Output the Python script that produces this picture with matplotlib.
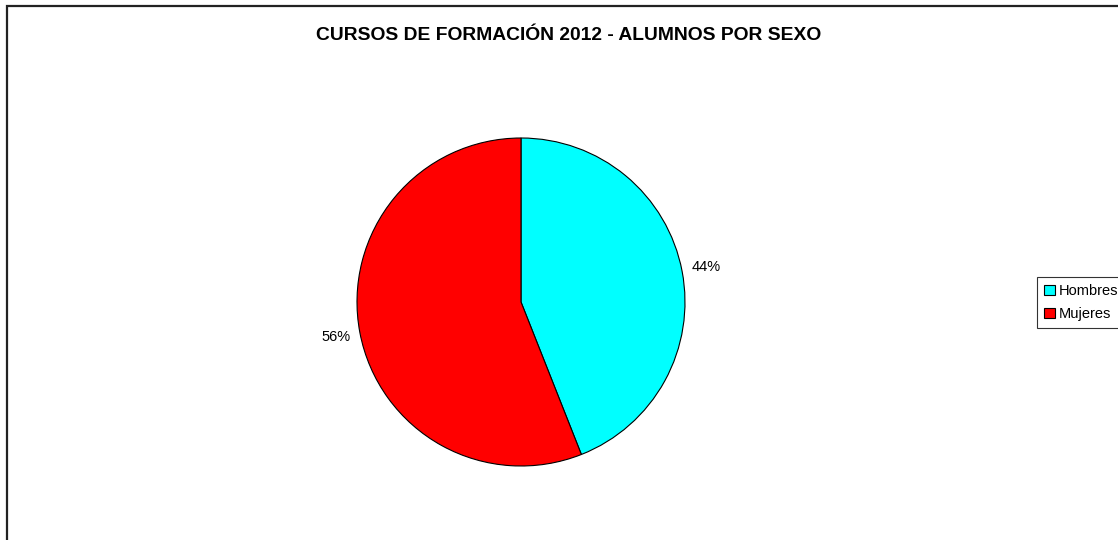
import matplotlib.pyplot as plt
from matplotlib.patches import Rectangle

plt.rcParams['font.family'] = ['Liberation Sans', 'DejaVu Sans']

titulo = 'CURSOS DE FORMACIÓN 2012 - ALUMNOS POR SEXO'
sexos = ['Hombres', 'Mujeres']
porcentajes = [44, 56]
colores = ['#00FFFF', '#FF0000']

W, H = 1118, 540
fig = plt.figure(figsize=(W / 100, H / 100), dpi=100)

# marco del grafico (se sale por la derecha y por abajo)
fig.patches.append(Rectangle((7 / W, -0.1), 1.2, (H - 6) / H + 0.1,
                             transform=fig.transFigure, fill=False,
                             edgecolor='#222222', linewidth=1.6))

fig.text(569 / W, 1 - 35 / H, titulo, ha='center', va='center',
         fontsize=13.9, fontweight='bold')

# tarta centrada en (521, 302) con radio 164 px
cx, cy, r = 521, 302, 164
ax = fig.add_axes([(cx - r) / W, (H - cy - r) / H, 2 * r / W, 2 * r / H])
wedges, textos, pct = ax.pie(porcentajes, colors=colores, startangle=90,
                             counterclock=False, autopct='%1.0f%%',
                             pctdistance=1.15,
                             wedgeprops=dict(edgecolor='black', linewidth=0.8))
for t in pct:
    t.set_fontsize(10.5)
ax.set_xlim(-1, 1)
ax.set_ylim(-1, 1)

leg = fig.legend(wedges, sexos, loc='upper left',
                 bbox_to_anchor=(1037 / W, 1 - 277 / H), fontsize=10.5,
                 frameon=True, fancybox=False, edgecolor='black',
                 handlelength=0.7, handleheight=0.7, handletextpad=0.3,
                 borderpad=0.5, labelspacing=0.6, borderaxespad=0)
leg.get_frame().set_linewidth(0.8)

fig.savefig('out.png', dpi=100)
